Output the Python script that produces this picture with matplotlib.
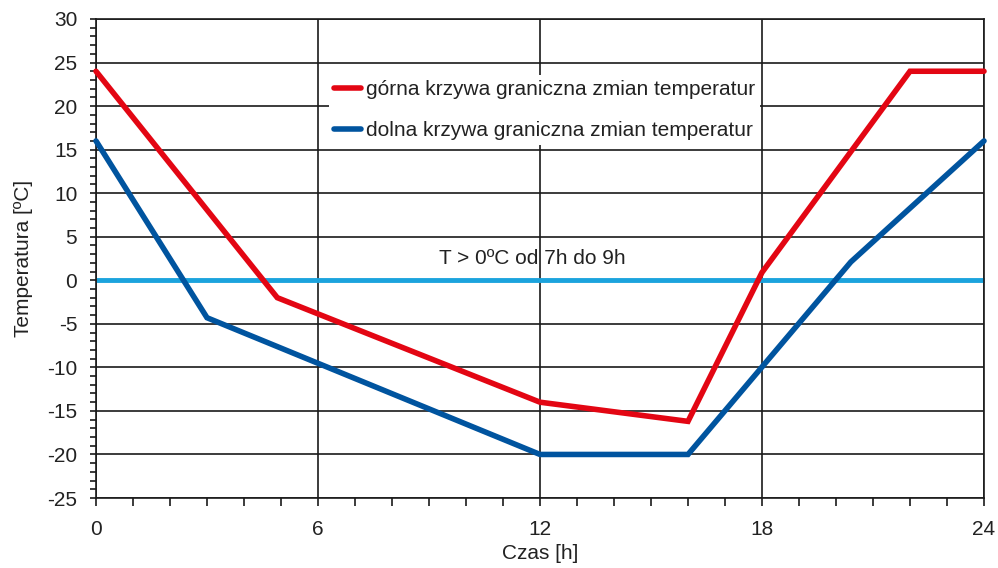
import matplotlib
matplotlib.use("Agg")
import matplotlib.pyplot as plt
from matplotlib.ticker import MultipleLocator

plt.rcParams['font.family'] = ['Liberation Sans', 'DejaVu Sans']
plt.rcParams['axes.unicode_minus'] = False

# data
upper_x = [0, 4.9, 12, 16, 18, 22, 24]
upper_y = [24, -2, -14, -16.2, 0.9, 24, 24]
lower_x = [0, 3, 12, 16, 20.4, 24]
lower_y = [16, -4.3, -20, -20, 2.1, 16]
zero_x = [0, 24]
zero_y = [0, 0]
labels = ["górna krzywa graniczna zmian temperatur",
          "dolna krzywa graniczna zmian temperatur"]
note = "T > 0ºC od 7h do 9h"
xlabel = "Czas [h]"
ylabel = "Temperatura [ºC]"

red = "#e30613"
blue = "#00549f"
cyan = "#1ba3dd"
txt = "#222222"

fig = plt.figure(figsize=(9.98, 5.68), dpi=100)
ax = fig.add_axes([96/998, 1-498/568, (984-96)/998, (498-19)/568])

ax.set_xlim(0, 24)
ax.set_ylim(-25, 30)
ax.xaxis.set_major_locator(MultipleLocator(6))
ax.xaxis.set_minor_locator(MultipleLocator(1))
ax.yaxis.set_major_locator(MultipleLocator(5))
ax.yaxis.set_minor_locator(MultipleLocator(1))
ax.grid(True, which='major', color='#1a1a1a', linewidth=1.2, zorder=0)
for s in ax.spines.values():
    s.set_color('#1a1a1a')
    s.set_linewidth(1.2)
ax.tick_params(which='both', direction='out', color='#1a1a1a', width=1.2,
               labelsize=15, labelcolor=txt)
ax.tick_params(axis='x', which='both', length=5.5, pad=10)
ax.tick_params(axis='y', which='both', length=4.5, pad=9)

ax.plot(zero_x, zero_y, color=cyan, lw=3.5, solid_capstyle='butt', zorder=2, clip_on=False)
l1, = ax.plot(upper_x, upper_y, color=red, lw=4, solid_capstyle='round',
              solid_joinstyle='miter', zorder=3, clip_on=False, label=labels[0])
l2, = ax.plot(lower_x, lower_y, color=blue, lw=4, solid_capstyle='round',
              solid_joinstyle='miter', zorder=3, clip_on=False, label=labels[1])

ax.text(11.8, 2.5, note, ha='center', va='center', fontsize=15, color=txt, zorder=4)

leg = ax.legend(handles=[l1, l2], loc='upper left', bbox_to_anchor=(6.3/24, (23.6+25)/55),
                fontsize=15, frameon=True, fancybox=False, framealpha=1,
                edgecolor='none', facecolor='white', handlelength=1.3,
                handletextpad=0.2, borderpad=0.25, labelspacing=1.05, borderaxespad=0)
leg.set_zorder(5)
for t in leg.get_texts():
    t.set_color(txt)

ax.set_xlabel(xlabel, fontsize=15, color=txt, labelpad=4)
ax.set_ylabel(ylabel, fontsize=15, color=txt, labelpad=10)

fig.savefig("out.png", dpi=100)
